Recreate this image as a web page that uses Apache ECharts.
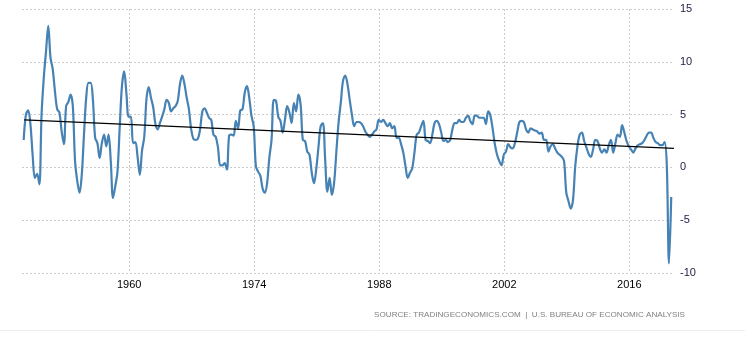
<!DOCTYPE html>
<html>
<head>
<meta charset="utf-8">
<script src="https://cdn.jsdelivr.net/npm/echarts@6/dist/echarts.min.js"></script>
<style>
  html, body { margin: 0; padding: 0; background: #fff; }
  #chart { width: 745px; height: 337px; }
</style>
</head>
<body>
<div id="chart"></div>
<script>
// US GDP annual growth rate (YoY, quarterly), 1948 Q1 - 2020 Q3
const startYear = 1948;
const growth1940s = [2.6, 5.0, 5.4, 4.1,  1.2, -1.0, -0.6, -1.6];
const growth1950s = [
  5.0, 8.5, 11.0, 13.4,   10.4, 9.3, 7.2, 5.5,   5.2, 3.4, 2.2, 5.8,
  6.2, 6.9, 5.8, 0.6,    -1.3, -2.4, -0.7, 3.1,  6.6, 8.0, 8.0, 6.4,
  2.8, 2.3, 0.9, 2.3,     3.1, 2.0, 3.1, 0.6,   -2.9, -1.8, -0.4, 3.8,
  7.7, 9.1, 7.0, 4.8
];
const growth1960s = [
  4.8, 2.3, 2.4, 1.0,   -0.7, 1.6, 2.9, 6.5,    7.6, 6.6, 5.7, 4.1,
  3.6, 4.2, 4.8, 5.5,    6.4, 6.1, 5.3, 5.6,    5.8, 6.3, 7.9, 8.7,
  7.9, 6.6, 5.5, 3.6,    2.7, 2.6, 2.7, 3.6,    5.3, 5.6, 5.2, 4.7,
  4.5, 3.1, 2.9, 1.9
];
const growth1970s = [
  0.2, 0.2, 0.4, -0.2,   3.0, 3.1, 3.0, 4.4,    3.7, 5.4, 5.5, 7.1,
  7.7, 6.6, 4.9, 3.9,    0.1, -0.4, -0.8, -2.0, -2.4, -1.5, 0.9, 2.6,
  6.4, 6.3, 4.8, 4.4,    3.3, 4.5, 5.8, 5.2,    4.2, 6.1, 5.3, 6.9,
  6.0, 2.6, 2.5, 1.5
];
const growth1980s = [
  1.2, -0.5, -1.5, -0.2,  1.9, 3.9, 4.2, 0.8,  -2.3, -1.0, -2.6, -1.5,
  1.4, 4.2, 6.1, 8.2,     8.7, 7.9, 6.4, 5.0,   3.9, 4.3, 4.3, 4.2,
  3.9, 3.4, 3.1, 2.9,     3.1, 3.4, 3.6, 4.5,   4.3, 4.5, 4.2, 3.9,
  4.2, 3.7, 3.9, 2.8
];
const growth1990s = [
  2.8, 2.2, 1.4, 0.1,   -1.0, -0.5, -0.1, 1.4,   3.1, 3.3, 3.9, 4.4,
  2.6, 2.5, 2.3, 3.1,    4.2, 4.4, 4.1, 3.3,    2.5, 2.6, 2.4, 2.6,
  3.6, 4.2, 4.2, 4.5,    4.3, 4.3, 4.7, 4.9,    4.4, 4.1, 4.9, 4.9,
  4.7, 4.7, 4.7, 4.1
];
const growth2000s = [
  5.3, 4.9, 3.7, 2.2,    1.2, 0.6, 0.2, 1.2,    1.5, 2.2, 1.9, 1.8,
  2.3, 3.3, 4.3, 4.4,    4.3, 3.6, 3.3, 3.7,    3.6, 3.5, 3.4, 3.2,
  3.3, 2.6, 2.6, 1.5,    2.0, 2.2, 1.8, 1.4,    1.2, 1.0, 0.6, -2.4,
 -3.2, -3.9, -3.1, 0.1
];
const growth2010s = [
  2.0, 3.1, 3.3, 2.5,    1.9, 1.3, 1.0, 1.7,    2.6, 2.5, 1.8, 1.4,
  1.7, 1.4, 2.1, 2.6,    1.4, 2.3, 3.1, 2.9,    4.0, 3.3, 2.5, 2.0,
  1.7, 1.4, 1.8, 2.1,    2.2, 2.3, 2.6, 3.0,    3.3, 3.3, 2.8, 2.4,
  2.3, 2.1, 2.1, 2.4
];
const growth2020s = [0.3, -9.1, -2.8];

const xTickYears = [1960, 1974, 1988, 2002, 2016];
const trendYears = [1948.25, 2021];
const trendValues = [4.5, 1.8];
const sourceText = 'SOURCE: TRADINGECONOMICS.COM  |  U.S. BUREAU OF ECONOMIC ANALYSIS';

const growth = [].concat(growth1940s, growth1950s, growth1960s, growth1970s,
  growth1980s, growth1990s, growth2000s, growth2010s, growth2020s);
const seriesData = growth.map((v, i) => [startYear + i / 4 + 0.19, v]);
const trendData = trendYears.map((y, i) => [y, trendValues[i]]);

const chart = echarts.init(document.getElementById('chart'), null, { renderer: 'canvas' });
chart.setOption({
  animation: false,
  backgroundColor: '#ffffff',
  textStyle: { fontFamily: 'Liberation Sans, Arial, sans-serif' },
  grid: { left: 22, right: 71, top: 9, bottom: 64 },
  xAxis: {
    type: 'value',
    min: 1948,
    max: 2021,
    axisLine: { show: false },
    axisTick: {
      show: true, length: 3, customValues: xTickYears,
      lineStyle: { color: '#cccccc' }
    },
    axisLabel: {
      customValues: xTickYears,
      color: '#000000', fontSize: 11, margin: 6,
      formatter: v => String(v)
    },
    splitLine: {
      show: true,
      lineStyle: { color: '#cccccc', type: [2, 2], width: 1 }
    }
  },
  yAxis: {
    type: 'value',
    position: 'right',
    min: -10,
    max: 15,
    interval: 5,
    axisLine: { show: false },
    axisTick: { show: false },
    axisLabel: { color: '#1c1c44', fontSize: 11, margin: 6, align: 'left' },
    splitLine: { show: true, lineStyle: { color: '#cccccc', type: [2, 2], width: 1 } }
  },
  series: [
    {
      type: 'line',
      data: seriesData,
      smooth: 0.35,
      showSymbol: false,
      lineStyle: { color: '#4682b4', width: 2.2 },
      z: 2
    },
    {
      type: 'line',
      data: trendData,
      showSymbol: false,
      lineStyle: { color: '#000000', width: 1.2 },
      z: 3
    }
  ],
  graphic: [
    {
      type: 'text',
      right: 60,
      top: 311,
      style: {
        text: sourceText,
        fill: '#808080',
        font: '8.1px "Liberation Sans", Arial, sans-serif'
      }
    },
    {
      type: 'line',
      shape: { x1: 0, y1: 330.5, x2: 745, y2: 330.5 },
      style: { stroke: '#eeeeee', lineWidth: 1 }
    }
  ]
});
</script>
</body>
</html>
